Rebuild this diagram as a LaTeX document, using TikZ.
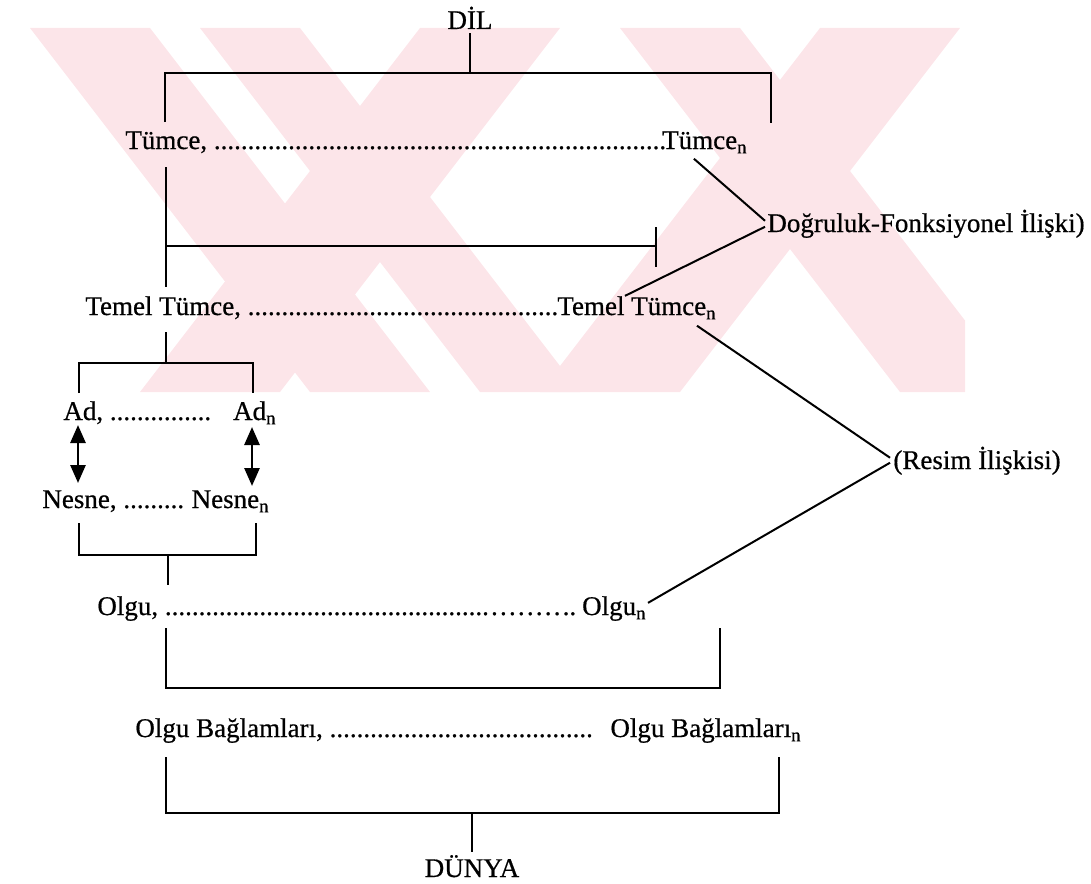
\documentclass[tikz,border=0pt]{standalone}
\usepackage{fontspec}
\setmainfont{Liberation Serif}[UprightFeatures={FakeBold=0.6}]
\usetikzlibrary{arrows.meta,calc}
\definecolor{wm}{RGB}{252,229,233}
\begin{document}
\begin{tikzpicture}[x=0.5pt,y=-0.5pt,
  lbl/.style={inner sep=0pt, font=\fontsize{13.5}{16}\selectfont},
  ln/.style={line width=1pt},
  wmk/.style={fill=wm, draw=none},
  dbl/.style={line width=1.4pt, {Triangle[length=9pt,width=7.5pt]}-{Triangle[length=9pt,width=7.5pt]}}]
\path[use as bounding box] (0,0) rectangle (1091,883);

% ---------- watermark (faint) ----------
\begin{scope}
\clip (0,28) rectangle (965,392);
\fill[wmk] (30,28) -- (150,28) -- (430,392) -- (310,392) -- cycle;
\fill[wmk] (200,28) -- (300,28) -- (580,392) -- (480,392) -- cycle;
\fill[wmk] (420,28) -- (560,28) -- (280,392) -- (140,392) -- cycle;
\fill[wmk] (820,28) -- (960,28) -- (680,392) -- (540,392) -- cycle;
\fill[wmk] (620,28) -- (740,28) -- (1020,392) -- (900,392) -- cycle;
\end{scope}

% ---------- texts ----------
\node[lbl,anchor=base] (dil) at (470,29) {DİL};
\node[lbl,anchor=base west] (t1) at (125,149) {Tümce, ...................................................................};
\node[lbl,anchor=base east] (tn) at (748,149) {Tümce\textsubscript{n}};
\node[lbl,anchor=base west] (dog) at (767,232) {Doğruluk-Fonksiyonel İlişki)};
\node[lbl,anchor=base west] (tt1) at (85,315) {Temel Tümce, ..............................................};
\node[lbl,anchor=base east] (ttn) at (717,315) {Temel Tümce\textsubscript{n}};
\node[lbl,anchor=base west] (res) at (893,469) {(Resim İlişkisi)};
\node[lbl,anchor=base west] (ad1) at (63,420) {Ad, ...............};
\node[lbl,anchor=base east] (adn) at (277,420) {Ad\textsubscript{n}};
\node[lbl,anchor=base west] (ne1) at (42,508) {Nesne, .........};
\node[lbl,anchor=base east] (nen) at (270,508) {Nesne\textsubscript{n}};
\node[lbl,anchor=base west] (ol1) at (97,615) {Olgu, ................................................\kern1.1pt.\kern1.1pt.\kern1.1pt.\kern1.1pt.\kern1.1pt.\kern1.1pt.\kern1.1pt.\kern1.1pt.\kern1.1pt..};
\node[lbl,anchor=base east] (oln) at (647,615) {Olgu\textsubscript{n}};
\node[lbl,anchor=base west] (ob1) at (135,737) {Olgu Bağlamları, .......................................};
\node[lbl,anchor=base east] (obn) at (802,737) {Olgu Bağlamları\textsubscript{n}};
\node[lbl,anchor=base] (dun) at (472,877) {DÜNYA};

% ---------- bracket points ----------
\coordinate (topM) at (470,73);
\coordinate (topL) at (165,122);
\coordinate (topR) at (771,123);
\coordinate (v1a) at (166,167);
\coordinate (v1b) at (166,287);
\coordinate (h2L) at (166,246);
\coordinate (h2R) at (656,246);
\coordinate (k2a) at (656,227);
\coordinate (k2b) at (656,267);
\coordinate (v3a) at (166,332);
\coordinate (v3b) at (166,363);
\coordinate (adL) at (79,393);
\coordinate (adR) at (253,393);
\coordinate (a1t) at (78,425);
\coordinate (a1b) at (78,483);
\coordinate (a2t) at (252,427);
\coordinate (a2b) at (252,486);
\coordinate (neL) at (79,523);
\coordinate (neR) at (256,523);
\coordinate (neM) at (168,555);
\coordinate (neO) at (168,585);
\coordinate (olL) at (166,628);
\coordinate (olR) at (720,628);
\coordinate (olB) at (720,688);
\coordinate (obL) at (166,757);
\coordinate (obR) at (779,757);
\coordinate (obM) at (472,813);
\coordinate (obD) at (472,852);

% ---------- connectors ----------
\draw[ln] ($(dil.south)+(0,4)$) -- (topM);
\draw[ln] (topL) |- (topM) -| (topR);
\draw[ln] (v1a) -- (v1b);
\draw[ln] (h2L) -- (h2R);
\draw[ln] (k2a) -- (k2b);
\draw[ln] (v3a) -- (v3b);
\draw[ln] (adL) |- (v3b) -| (adR);
\draw[dbl] (a1t) -- (a1b);
\draw[dbl] (a2t) -- (a2b);
\draw[ln] (neL) |- (neM) -| (neR);
\draw[ln] (neM) -- (neO);
\draw[ln] (olL) |- (olB) -- (olR);
\draw[ln] (obL) |- (obM) -| (obR);
\draw[ln] (obM) -- (obD);

\draw[ln] ($(tn.south)+(-11,5)$) -- ($(dog.west)+(-2,-3)$);
\draw[ln] ($(dog.west)+(-2,3)$) -- ($(ttn.north west)+(68,0)$);
\draw[ln] ($(ttn.south east)+(-20,6)$) -- ($(res.west)+(-3,-3)$);
\draw[ln] ($(oln.north east)+(1,7)$) -- ($(res.west)+(-3,2)$);
\end{tikzpicture}
\end{document}
